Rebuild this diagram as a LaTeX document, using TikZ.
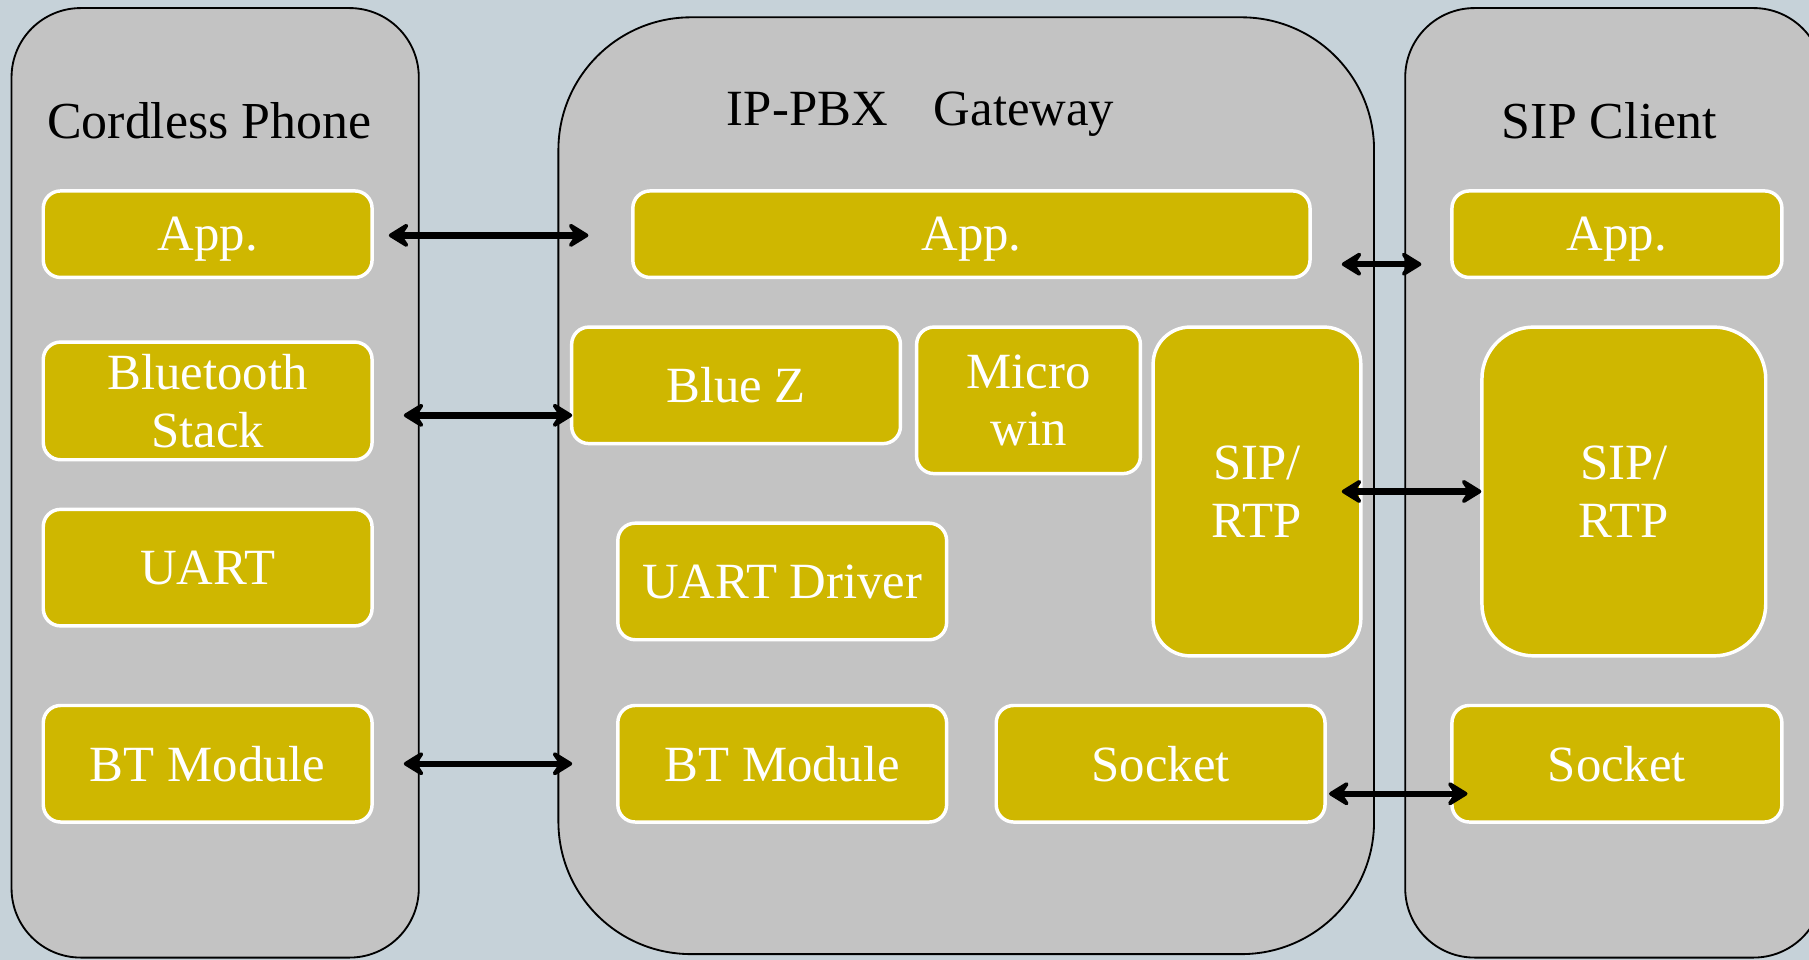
\documentclass[tikz,border=0pt]{standalone}
\usepackage{fontspec}
\setmainfont{Liberation Serif}
\usetikzlibrary{arrows.meta,calc}
\definecolor{bgblue}{HTML}{C6D2D9}
\definecolor{panelgray}{HTML}{C3C3C3}
\definecolor{blockgold}{HTML}{CFB700}
\tikzset{linktip/.tip={Stealth[length=22pt,width=27pt,inset=9pt,round]}}
\begin{document}
\begin{tikzpicture}[x=1pt,y=-1pt,
  panel/.style={draw=black,line width=1.6pt,fill=panelgray},
  title/.style={font=\fontsize{45}{50}\selectfont,text=black,anchor=base,inner sep=0pt},
  block/.style={draw=white,line width=3pt,fill=blockgold,text=white,text depth=0pt,
    font=\fontsize{44}{50}\selectfont,align=center,inner sep=0pt,rounded corners=15pt},
  biarrow/.style={draw=black,line width=5.5pt,{linktip}-{linktip}}]
% canvas
\fill[bgblue] (0,0) rectangle (1568,832);
\useasboundingbox (0,0) rectangle (1568,832);
\clip (0,0) rectangle (1568,832);
% the three device panels
\draw[panel,rounded corners=60pt] (10,7) rectangle (363,830);
\draw[panel,rounded corners=115pt] (484,15) rectangle (1191,827);
\draw[panel,rounded corners=60pt] (1218,7) rectangle (1580,830);
% panel titles
\node[title] (tPhone) at (181.5,120) {Cordless Phone};
\node[title,font=\fontsize{44}{50}\selectfont] (tGw) at (798,109) {IP-PBX\hspace{40pt}Gateway};
\node[title] (tSip) at (1395,120) {SIP Client};
% cordless phone stack
\node[block,minimum width=285pt,minimum height=75pt] (cpApp) at (180,203) {App.};
\node[block,minimum width=285pt,minimum height=102pt] (cpStack) at (180,347.5) {Bluetooth\\Stack};
\node[block,minimum width=285pt,minimum height=101pt] (cpUART) at (180,492) {UART};
\node[block,minimum width=285pt,minimum height=101pt] (cpBT) at (180,662) {BT Module};
% gateway stack
\node[block,minimum width=587pt,minimum height=75pt] (gwApp) at (842,203) {App.};
\node[block,minimum width=285pt,minimum height=101pt] (gwBlueZ) at (638,334) {Blue Z};
\node[block,minimum width=194pt,minimum height=127pt] (gwMicro) at (891.5,347) {Micro\\win};
\node[block,minimum width=180pt,minimum height=285pt,rounded corners=32pt] (gwSIP) at (1089.5,426) {SIP/\\RTP};
\node[block,minimum width=285pt,minimum height=101pt] (gwUART) at (678,504) {UART Driver};
\node[block,minimum width=285pt,minimum height=101pt] (gwBT) at (678,662) {BT Module};
\node[block,minimum width=285pt,minimum height=101pt] (gwSock) at (1006,662) {Socket};
% SIP client stack
\node[block,minimum width=286pt,minimum height=75pt] (scApp) at (1401.5,203) {App.};
\node[block,minimum width=246pt,minimum height=285pt,rounded corners=45pt] (scSIP) at (1407.5,426) {SIP/\\RTP};
\node[block,minimum width=286pt,minimum height=101pt] (scSock) at (1401.5,662) {Socket};
% links between peer layers
\draw[biarrow] ($(cpApp.east)+(13,1)$) -- ($(gwApp.west)+(-37,1)$);
\draw[biarrow] ($(cpStack.east)+(26,12.5)$) -- ($(gwBlueZ.west)+(2,26)$);
\draw[biarrow] ($(cpBT.east)+(26,0)$) -- ($(gwBT.west)+(-38,0)$);
\draw[biarrow] ($(gwApp.east)+(26,26)$) -- ($(scApp.west)+(-25,26)$);
\draw[biarrow] ($(gwSIP.east)+(-18,0)$) -- ($(scSIP.west)+(1,0)$);
\draw[biarrow] ($(gwSock.east)+(2,26)$) -- ($(scSock.west)+(15,26)$);
\end{tikzpicture}
\end{document}
